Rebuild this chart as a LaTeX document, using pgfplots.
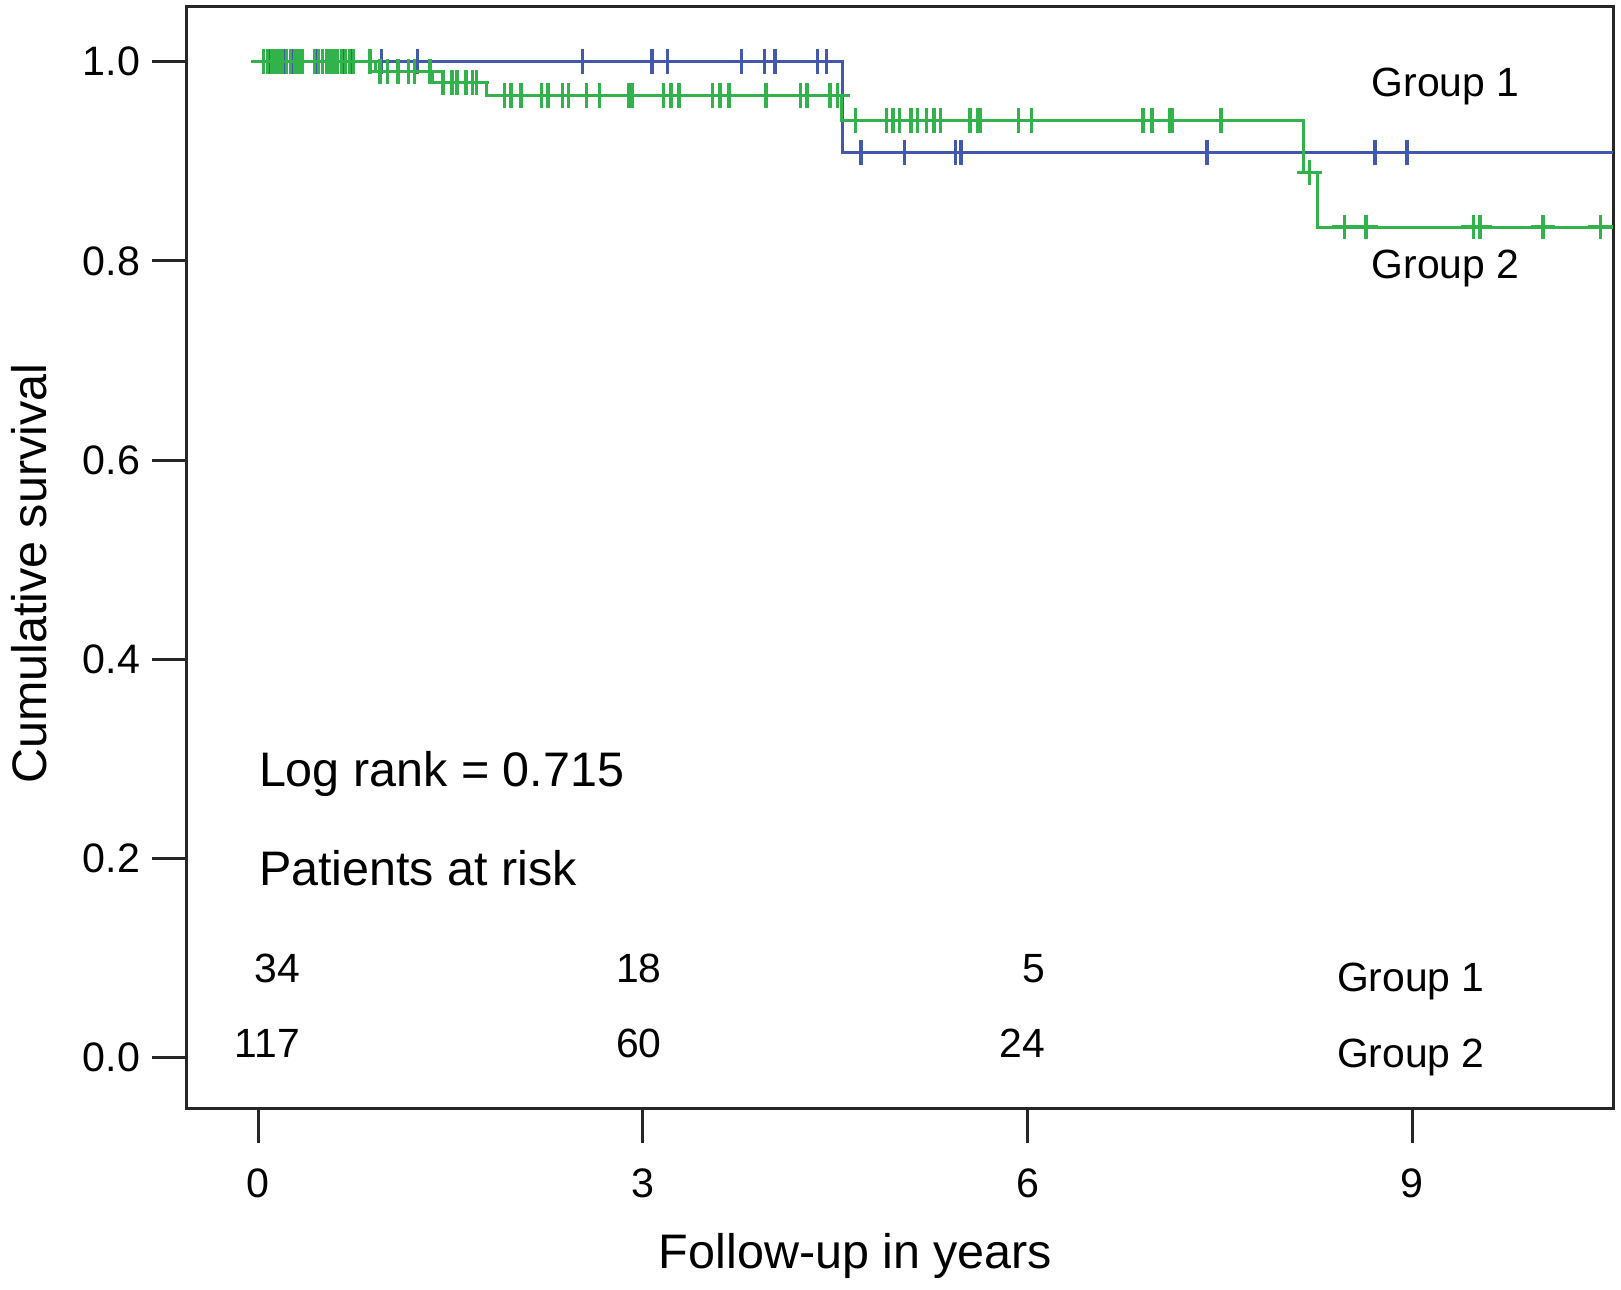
\documentclass[border=0pt]{standalone}
\usepackage{fontspec}
\setmainfont{Liberation Sans}
\usepackage{pgfplots}
\pgfplotsset{compat=1.18}

\definecolor{grpone}{RGB}{66,88,172}
\definecolor{grptwo}{RGB}{50,178,74}

\begin{document}
\begin{tikzpicture}[txt/.style={inner sep=0pt, font=\fontsize{12.3}{14}\selectfont},
                    big/.style={inner sep=0pt, font=\fontsize{14.6}{17}\selectfont}]
\begin{axis}[
  scale only axis,
  width=429.6pt, height=331.8pt,
  xmin=-0.559, xmax=10.567,
  ymin=-0.051, ymax=1.055,
  axis line style={black!85, line width=0.9pt},
  tick align=outside,
  xtick pos=bottom, ytick pos=left,
  major tick length=10.5pt,
  tick style={black!85, line width=0.9pt},
  xtick={0,3,6,9}, xticklabels={0,3,6,9},
  ytick={0,0.2,0.4,0.6,0.8,1.0},
  yticklabels={0.0,0.2,0.4,0.6,0.8,1.0},
  ticklabel style={font=\fontsize{12.4}{14}\selectfont},
  xticklabel style={yshift=-4pt},
  xlabel={Follow-up in years},
  ylabel={Cumulative survival},
  label style={font=\fontsize{14.6}{17}\selectfont},
  xlabel style={at={(axis description cs:0.469,-0.1447)}, anchor=base},
  ylabel style={at={(axis description cs:-0.0985,0.4855)}, anchor=base},
]
% Kaplan-Meier steps
\addplot[const plot, grpone, line width=0.9pt] coordinates {
  (0,1) (4.56,0.909) (10.567,0.909)
};
\addplot[const plot, grptwo, line width=0.9pt] coordinates {
  (0,1) (0.91,0.99) (1.36,0.979) (1.78,0.966) (4.55,0.941)
  (8.15,0.889) (8.26,0.834) (10.567,0.834)
};
% censored cases
\addplot[only marks, mark=+, mark size=3.7pt, grpone, line width=1pt] coordinates {
  (0.04,1) (0.08,1) (0.12,1) (0.16,1) (0.20,1) (0.26,1) (0.30,1)
  (0.46,1) (0.50,1) (0.55,1) (0.60,1) (0.66,1) (0.72,1)
  (0.96,1) (1.24,1) (2.53,1)
  (3.07,1) (3.19,1) (3.77,1) (3.95,1) (4.03,1) (4.36,1) (4.43,1)
  (4.70,0.909) (5.04,0.909) (5.44,0.909) (5.44,0.909) (5.48,0.909)
  (7.40,0.909) (8.71,0.909) (8.96,0.909)
};
\addplot[only marks, mark=+, mark size=3.7pt, grptwo, line width=1pt] coordinates {
  (0.04,1) (0.07,1) (0.10,1) (0.13,1) (0.16,1) (0.19,1) (0.22,1) (0.25,1)
  (0.28,1) (0.31,1) (0.34,1) (0.44,1) (0.47,1) (0.50,1) (0.53,1) (0.56,1)
  (0.59,1) (0.62,1) (0.65,1) (0.68,1) (0.71,1) (0.74,1) (0.87,1)
  (0.95,0.99) (1.01,0.99) (1.09,0.99) (1.17,0.99) (1.22,0.99) (1.34,0.99)
  (1.44,0.979) (1.51,0.979) (1.55,0.979) (1.62,0.979) (1.67,0.979) (1.70,0.979)
  (1.92,0.966) (1.97,0.966) (2.05,0.966) (2.21,0.966) (2.26,0.966) (2.37,0.966)
  (2.42,0.966) (2.56,0.966) (2.66,0.966) (2.89,0.966) (2.92,0.966) (3.16,0.966)
  (3.22,0.966) (3.28,0.966) (3.54,0.966) (3.60,0.966) (3.67,0.966) (3.96,0.966)
  (4.23,0.966) (4.28,0.966) (4.46,0.966) (4.52,0.966)
  (4.66,0.941) (4.90,0.941) (4.95,0.941) (5.00,0.941) (5.09,0.941) (5.14,0.941)
  (5.21,0.941) (5.27,0.941) (5.32,0.941) (5.55,0.941) (5.61,0.941) (5.63,0.941)
  (5.93,0.941) (6.03,0.941) (6.90,0.941) (6.97,0.941) (7.11,0.941) (7.13,0.941)
  (7.51,0.941)
  (8.20,0.889)
  (8.47,0.834) (8.64,0.834) (9.48,0.834) (9.53,0.834) (10.02,0.834) (10.47,0.834)
};
% annotations
\node[txt, anchor=base west] at (axis cs:8.68,0.965) {Group 1};
\node[txt, anchor=base west] at (axis cs:8.68,0.782) {Group 2};
\node[big, anchor=base west] at (axis cs:0.0,0.272) {Log rank = 0.715};
\node[big, anchor=base west] at (axis cs:0.0,0.173) {Patients at risk};
\node[txt, anchor=base east] at (axis cs:0.33,0.076) {34};
\node[txt, anchor=base east] at (axis cs:3.15,0.076) {18};
\node[txt, anchor=base east] at (axis cs:6.14,0.076) {5};
\node[txt, anchor=base east] at (axis cs:0.33,0.0) {117};
\node[txt, anchor=base east] at (axis cs:3.15,0.0) {60};
\node[txt, anchor=base east] at (axis cs:6.14,0.0) {24};
\node[txt, anchor=base west] at (axis cs:8.41,0.067) {Group 1};
\node[txt, anchor=base west] at (axis cs:8.41,-0.010) {Group 2};
\coordinate (bl) at (rel axis cs:0,0);
\coordinate (tr) at (rel axis cs:1,1);
\end{axis}
\path ([shift={(-54.3pt,-54.6pt)}]bl) rectangle ([shift={(2.4pt,2.1pt)}]tr);
\end{tikzpicture}
\end{document}
